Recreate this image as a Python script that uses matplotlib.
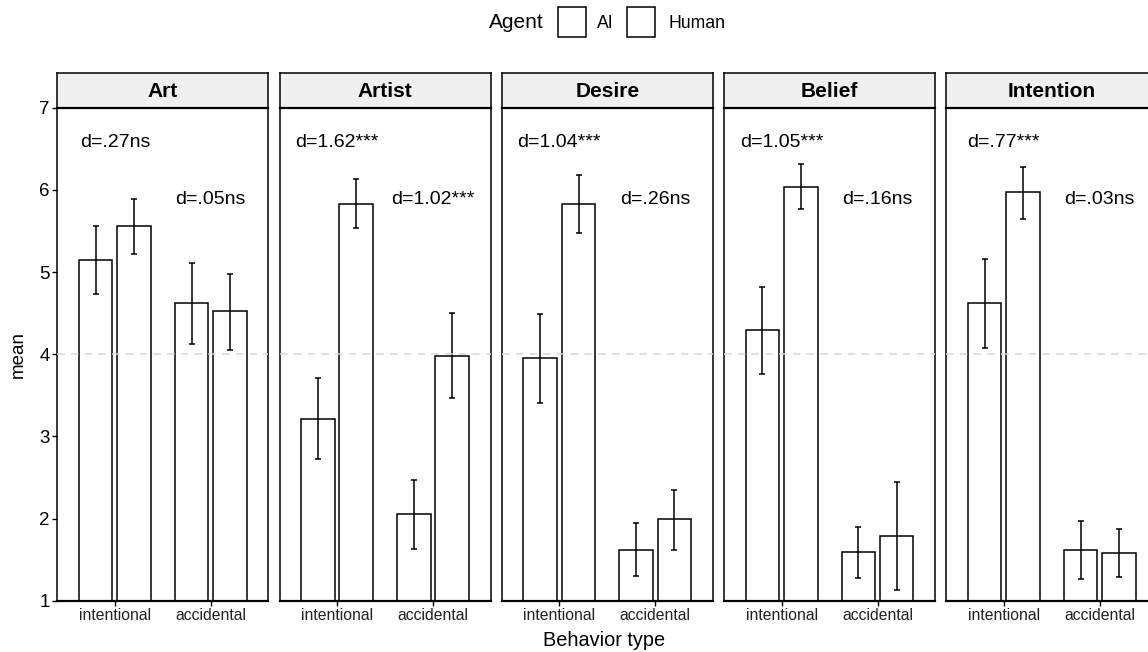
import numpy as np
import matplotlib
matplotlib.use('Agg')
import matplotlib.pyplot as plt
from matplotlib.patches import Rectangle

plt.rcParams['font.family'] = ['Liberation Sans', 'DejaVu Sans']

# data
measures = ['Art', 'Artist', 'Desire', 'Belief', 'Intention']
behaviors = ['intentional', 'accidental']
agents = ['AI', 'Human']

ai_mean = [[5.15, 4.62], [3.21, 2.05], [3.95, 1.62], [4.29, 1.59], [4.62, 1.62]]
ai_low = [[4.73, 4.12], [2.72, 1.63], [3.41, 1.30], [3.76, 1.28], [4.08, 1.27]]
ai_high = [[5.56, 5.11], [3.71, 2.47], [4.49, 1.95], [4.82, 1.90], [5.16, 1.97]]

human_mean = [[5.56, 4.52], [5.83, 3.98], [5.83, 1.99], [6.04, 1.79], [5.97, 1.58]]
human_low = [[5.22, 4.05], [5.53, 3.47], [5.48, 1.62], [5.77, 1.13], [5.65, 1.29]]
human_high = [[5.89, 4.98], [6.13, 4.50], [6.18, 2.35], [6.32, 2.45], [6.28, 1.87]]

d_intentional = ['d=.27ns', 'd=1.62***', 'd=1.04***', 'd=1.05***', 'd=.77***']
d_accidental = ['d=.05ns', 'd=1.02***', 'd=.26ns', 'd=.16ns', 'd=.03ns']

W, H = 1148, 652
fig = plt.figure(figsize=(W / 100, H / 100), dpi=100)

def px(x, y, w, h):
    # pixel box (top-left origin) -> figure fraction
    return [x / W, (H - y - h) / H, w / W, h / H]

panel_top, panel_bot = 107.7, 600.7
strip_top = 73
pw = 211
x = np.arange(len(behaviors)) + 1
bw = 0.35
off = 0.2

for i, m in enumerate(measures):
    left = 57.3 + i * 222.25
    ax = fig.add_axes(px(left, panel_top, pw, panel_bot - panel_top))
    am, hm = np.array(ai_mean[i]), np.array(human_mean[i])
    ax.bar(x - off, am - 1, bw, bottom=1, color='white', edgecolor='black', linewidth=1.1, zorder=2)
    ax.bar(x + off, hm - 1, bw, bottom=1, color='white', edgecolor='black', linewidth=1.1, zorder=2)
    ax.errorbar(x - off, am, yerr=[am - np.array(ai_low[i]), np.array(ai_high[i]) - am],
                fmt='none', ecolor='black', elinewidth=1.1, capsize=2.2, capthick=1.1, zorder=3)
    ax.errorbar(x + off, hm, yerr=[hm - np.array(human_low[i]), np.array(human_high[i]) - hm],
                fmt='none', ecolor='black', elinewidth=1.1, capsize=2.2, capthick=1.1, zorder=3)
    ax.axhline(4, color='#d6d6d6', lw=1.1, ls=(0, (5, 4)), zorder=4)
    ax.text(1, 6.58, d_intentional[i], ha='center', va='center', fontsize=14)
    ax.text(2, 5.88, d_accidental[i], ha='center', va='center', fontsize=14)

    ax.set_xlim(0.4, 2.6)
    ax.set_ylim(1, 7)
    ax.set_xticks(x)
    ax.set_xticklabels(behaviors, fontsize=11.3, color='#222222')
    ax.tick_params(axis='x', length=3.5, width=1, color='black', pad=2)
    if i == 0:
        ax.set_yticks(range(1, 8))
        ax.tick_params(axis='y', length=3.5, width=1, labelsize=13.5, pad=2)
    else:
        ax.set_yticks([])
    for s in ax.spines.values():
        s.set_linewidth(1.1)
    ax.spines['bottom'].set_linewidth(1.6)

    # facet strip
    sax = fig.add_axes(px(left, strip_top, pw, panel_top - strip_top))
    sax.set_facecolor('#f0f0f0')
    sax.set_xticks([])
    sax.set_yticks([])
    for s in sax.spines.values():
        s.set_linewidth(1.1)
    sax.spines['bottom'].set_linewidth(1.6)
    sax.text(0.5, 0.48, m, ha='center', va='center', fontsize=15, fontweight='bold',
             transform=sax.transAxes)

fig.text(18 / W, 1 - 354 / H, 'mean', rotation=90, ha='center', va='center', fontsize=13.5)
fig.text(604 / W, 1 - 641 / H, 'Behavior type', ha='center', va='center', fontsize=14.3)

# legend drawn by hand at the top
fig.text(516 / W, 1 - 23 / H, 'Agent', ha='center', va='center', fontsize=15)
for bx, lab, tx in [(558, 'AI', 597), (627, 'Human', 669)]:
    fig.patches.append(Rectangle((bx / W, 1 - 37 / H), 28 / W, 30 / H, transform=fig.transFigure,
                                 facecolor='white', edgecolor='black', linewidth=1.1))
    fig.text(tx / W, 1 - 23 / H, lab, ha='left', va='center', fontsize=12.7)

fig.savefig('out.png', dpi=100)
